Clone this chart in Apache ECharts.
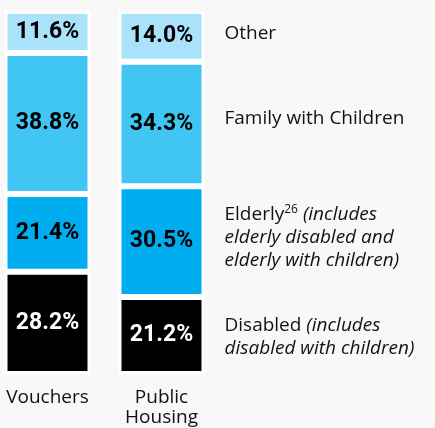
<!DOCTYPE html>
<html lang="en">

<head>
    <meta charset="UTF-8">
    <title>Households by type</title>
    <script src="https://cdn.jsdelivr.net/npm/echarts@6/dist/echarts.min.js"></script>
    <style>
        body {
            margin: 0;
            background: #f8f8f8;
        }

        #root {
            width: 435px;
            height: 428px;
        }
    </style>
</head>

<body>

    <div id="root"></div>
    <script>

        // bottom to top
        var categories = ['Vouchers', 'Public\nHousing'];
        var disabled = [28.2, 21.2];
        var elderly = [21.4, 30.5];
        var family = [38.8, 34.3];
        var other = [11.6, 14.0];

        var groups = [
            { name: 'Disabled', data: disabled, color: '#000000', text: '#ffffff', dy: 2,
              legend: '{n|Disabled }{i|(includes}\n{i|disabled with children)}' },
            { name: 'Elderly', data: elderly, color: '#00aeef', text: '#000000', dy: -4,
              legend: '{n|Elderly}{sup|26}{n| }{i|(includes}\n{i|elderly disabled and}\n{i|elderly with children)}' },
            { name: 'Family with Children', data: family, color: '#41c5f3', text: '#000000', dy: -5,
              legend: '{n|Family with Children}' },
            { name: 'Other', data: other, color: '#aae1fb', text: '#000000', dy: -3,
              legend: '{n|Other}' }
        ];

        var font = 'Open Sans';
        var series = [];

        groups.forEach(function (g) {
            series.push({
                name: g.name,
                type: 'bar',
                stack: 'a',
                barWidth: 86,
                clip: false,
                data: g.data,
                itemStyle: { color: g.color, borderColor: '#ffffff', borderWidth: 3 },
                label: {
                    show: true,
                    position: 'inside',
                    formatter: function (p) { return p.value.toFixed(1) + '%'; },
                    color: g.text,
                    fontFamily: 'Roboto',
                    fontWeight: 'bold',
                    fontSize: 23
                }
            });
        });

        // transparent copies to hang the legend texts next to the second bar
        groups.forEach(function (g) {
            series.push({
                name: g.name + ' label',
                type: 'bar',
                stack: 'b',
                barWidth: 86,
                barGap: '-100%',
                clip: false,
                silent: true,
                data: g.data.map(function (v, i) {
                    return {
                        value: v,
                        label: { show: i === 1 }
                    };
                }),
                itemStyle: { color: 'transparent' },
                label: {
                    position: 'right',
                    distance: 20,
                    offset: [0, g.dy],
                    formatter: g.legend,
                    rich: {
                        n: { fontFamily: font, fontSize: 19, color: '#111', lineHeight: 23 },
                        i: { fontFamily: font, fontSize: 19, fontStyle: 'italic', color: '#111', lineHeight: 23 },
                        sup: { fontFamily: font, fontSize: 12, color: '#111', verticalAlign: 'top', lineHeight: 23 }
                    }
                }
            });
        });

        var mychart = echarts.init(document.getElementById('root'));

        mychart.setOption({
            backgroundColor: '#f8f8f8',
            animation: false,
            grid: { left: 47.5, width: 114, top: 11, bottom: 50 },
            xAxis: {
                type: 'category',
                data: categories,
                boundaryGap: false,
                axisLine: { show: false },
                axisTick: { show: false },
                axisLabel: {
                    margin: 14,
                    color: '#111',
                    fontFamily: font,
                    fontSize: 19,
                    lineHeight: 20,
                    interval: 0
                }
            },
            yAxis: {
                type: 'value',
                min: 0,
                max: 100,
                show: false
            },
            series: series
        });

    </script>

</body>

</html>
